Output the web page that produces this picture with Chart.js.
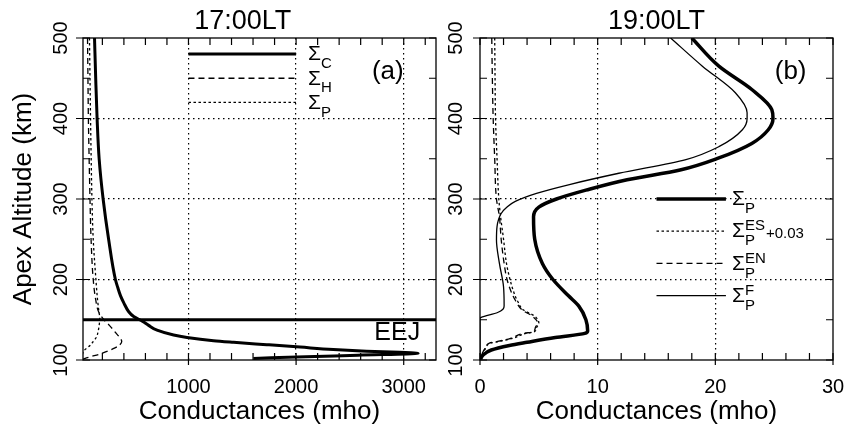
<!DOCTYPE html>
<html>
<head>
<meta charset="utf-8">
<script src="https://cdn.jsdelivr.net/npm/chart.js@4.4.0/dist/chart.umd.min.js"></script>
<style>
  html, body { margin: 0; padding: 0; background: #fff; }
  #wrap { position: relative; width: 850px; height: 427px; }
  #panelA { position: absolute; left: 0; top: 0; }
  #panelB { position: absolute; left: 440px; top: 0; }
</style>
</head>
<body>
<div id="wrap">
  <canvas id="panelA" width="440" height="427"></canvas>
  <canvas id="panelB" width="410" height="427"></canvas>
</div>
<script>
const FONT = '"Liberation Sans", Arial, Helvetica, sans-serif';
Chart.defaults.font.family = FONT;
Chart.defaults.color = '#000';

// 17:00 LT conductance profiles (apex altitude in km, conductance in mho)
const altC17 = [500, 450, 400, 350, 300, 250, 200, 190, 180, 171, 160, 154, 148, 143, 137, 131, 128, 124, 122, 119, 116, 113, 111, 109.5, 108.3, 106, 104, 102];
const sigmaC17 = [127, 138, 151, 170, 207, 258, 321, 343, 368, 399, 445, 491, 575, 630, 708, 862, 986, 1233, 1419, 1728, 2037, 2346, 2655, 2964, 3134, 2575, 2090, 1603];

const altH17 = [500, 450, 400, 350, 300, 250, 200, 175, 160, 150, 143, 135, 128, 123, 119, 115, 108, 104, 102, 100.5];
const sigmaH17 = [62, 66, 70, 77, 85, 95, 115, 138, 165, 215, 265, 317, 360, 380, 362, 317, 190, 90, 40, 15];

const altP17 = [500, 450, 400, 350, 300, 250, 200, 175, 160, 152, 145, 135, 129, 123, 118, 112, 106, 102];
const sigmaP17 = [80, 85, 90, 96, 103, 115, 140, 155, 168, 176, 172, 160, 147, 115, 85, 32, 12, 5];

const eejAltitude = 150;

// 19:00 LT Pedersen conductance and its E/F region parts
const altP19 = [500, 465, 436, 411, 400, 386, 369, 351, 336, 324, 311, 300, 290, 278, 250, 220, 200, 180, 167, 150, 136, 133, 128, 122, 118, 112.4, 106, 101];
const sigmaP19 = [18.0, 20.3, 23.1, 24.8, 24.9, 24.5, 23.1, 20.3, 17.0, 12.5, 9.0, 6.5, 5.0, 4.55, 4.65, 5.3, 6.2, 7.5, 8.4, 9.0, 9.15, 8.9, 6.4, 4.0, 2.5, 0.96, 0.25, 0.05];

const altES19 = [500, 450, 400, 350, 300, 278, 250, 220, 200, 183, 173, 162, 155, 146, 140, 135, 133, 127, 123, 121, 115, 110, 105, 100];
const sigmaES19 = [1.25, 1.28, 1.32, 1.45, 1.6, 1.75, 2.0, 2.25, 2.55, 2.9, 3.2, 3.7, 4.6, 5.0, 4.8, 4.6, 3.9, 2.8, 1.6, 0.9, 0.5, 0.3, 0.1, 0.03];

const altEN19 = [500, 450, 400, 350, 300, 278, 250, 220, 200, 183, 173, 162, 155, 146, 140, 135, 133, 127, 123, 121, 115, 110, 105, 100];
const sigmaEN19 = [1.0, 1.05, 1.12, 1.25, 1.4, 1.65, 1.8, 2.05, 2.3, 2.7, 3.05, 3.6, 4.4, 4.9, 4.7, 4.5, 3.7, 2.6, 1.5, 0.8, 0.45, 0.25, 0.1, 0.0];

const altF19 = [500, 465, 432, 407, 400, 386, 365, 349, 332, 318, 307, 297, 290, 282, 266, 249, 220, 191, 167, 163, 159, 153, 152, 100];
const sigmaF19 = [16.2, 18.9, 21.7, 22.7, 22.7, 22.3, 20.3, 17.5, 11.8, 7.6, 4.8, 3.0, 2.3, 1.8, 1.45, 1.4, 1.65, 2.0, 2.05, 1.95, 1.5, 0.1, 0, 0];

// tick labels
const altTicks = [100, 200, 300, 400, 500];
const conductTicks17 = [1000, 2000, 3000];
const conductTicks19 = [0, 10, 20, 30];

const DOTTED = [2.5, 2.5];
const DASHED = [6, 4];

function points(alts, vals) {
  return alts.map((a, i) => ({ x: vals[i], y: a }));
}

function curve(data, width, dash) {
  return {
    data,
    borderColor: '#000',
    borderWidth: width,
    borderDash: dash,
    pointRadius: 0,
    fill: false,
    cubicInterpolationMode: 'monotone'
  };
}

// Σ with subscript / superscript, as used in the key labels
function sigmaLabel(ctx, x, y, sub, sup, tail) {
  ctx.textAlign = 'left';
  ctx.textBaseline = 'middle';
  ctx.font = `21px ${FONT}`;
  ctx.fillText('\u03A3', x, y + 0.5);
  const w = ctx.measureText('\u03A3').width;
  ctx.font = `15px ${FONT}`;
  ctx.fillText(sub, x + w, y + 10);
  let end = x + w + ctx.measureText(sub).width;
  if (sup) {
    ctx.fillText(sup, x + w, y - 5);
    end = Math.max(end, x + w + ctx.measureText(sup).width);
  }
  if (tail) ctx.fillText(tail, end + 1, y + 3);
}

// frame, inward ticks, rotated altitude labels, key and annotations
const decor = {
  id: 'decor',
  afterDraw(chart, args, opts) {
    const { ctx, chartArea: a } = chart;
    const x = chart.scales.x, y = chart.scales.y;
    ctx.save();
    ctx.strokeStyle = '#000';
    ctx.fillStyle = '#000';
    ctx.setLineDash([]);

    ctx.lineWidth = 1.3;
    ctx.strokeRect(a.left, a.top, a.right - a.left, a.bottom - a.top);

    ctx.lineWidth = 1.2;
    ctx.beginPath();
    const n0 = Math.ceil(x.min / opts.xMinor), n1 = Math.floor(x.max / opts.xMinor);
    for (let n = n0; n <= n1; n++) {
      const px = x.getPixelForValue(n * opts.xMinor);
      ctx.moveTo(px, a.bottom); ctx.lineTo(px, a.bottom - 7);
      ctx.moveTo(px, a.top); ctx.lineTo(px, a.top + 7);
    }
    const m0 = Math.ceil(y.min / opts.yMinor), m1 = Math.floor(y.max / opts.yMinor);
    for (let m = m0; m <= m1; m++) {
      const py = y.getPixelForValue(m * opts.yMinor);
      ctx.moveTo(a.left, py); ctx.lineTo(a.left + 7, py);
      ctx.moveTo(a.right, py); ctx.lineTo(a.right - 7, py);
    }
    x.ticks.forEach(t => {
      const px = x.getPixelForValue(t.value);
      ctx.moveTo(px, a.bottom); ctx.lineTo(px, a.bottom + 5);
    });
    altTicks.forEach(v => {
      const py = y.getPixelForValue(v);
      ctx.moveTo(a.left - 7, py); ctx.lineTo(a.left, py);
    });
    ctx.stroke();

    // altitude labels, reading upwards
    ctx.font = `20px ${FONT}`;
    ctx.textAlign = 'center';
    ctx.textBaseline = 'middle';
    altTicks.forEach(v => {
      ctx.save();
      ctx.translate(a.left - opts.yLabelGap, y.getPixelForValue(v));
      ctx.rotate(-Math.PI / 2);
      ctx.fillText(String(v), 0, 0);
      ctx.restore();
    });

    // panel heading
    ctx.font = `27px ${FONT}`;
    ctx.fillText(opts.heading, x.getPixelForValue(opts.headingX), 22);

    ctx.font = `26px ${FONT}`;
    ctx.fillText(opts.tag, x.getPixelForValue(opts.tagAt[0]), y.getPixelForValue(opts.tagAt[1]));

    if (opts.note) {
      ctx.font = `25px ${FONT}`;
      ctx.fillText(opts.note.text, x.getPixelForValue(opts.note.at[0]), y.getPixelForValue(opts.note.at[1]));
    }

    // key
    opts.keys.forEach(k => {
      const py = y.getPixelForValue(k.alt);
      const x0 = x.getPixelForValue(opts.keyFrom), x1 = x.getPixelForValue(opts.keyTo);
      ctx.lineWidth = k.width;
      ctx.setLineDash(k.dash);
      ctx.beginPath();
      ctx.moveTo(x0, py); ctx.lineTo(x1, py);
      ctx.stroke();
      ctx.setLineDash([]);
      sigmaLabel(ctx, x1 + opts.keyGap, py, k.sub, k.sup, k.tail);
    });
    ctx.restore();
  }
};

function makeOptions(cfg) {
  return {
    responsive: false,
    animation: false,
    devicePixelRatio: 1,
    indexAxis: 'y',
    layout: { padding: { top: 38, right: cfg.padRight, left: 0, bottom: 0 } },
    plugins: {
      legend: { display: false },
      tooltip: { enabled: false },
      decor: cfg.decor
    },
    scales: {
      x: {
        type: 'linear',
        min: cfg.xMin,
        max: cfg.xMax,
        afterBuildTicks: s => { s.ticks = cfg.xTicks.map(v => ({ value: v })); },
        ticks: {
          font: { size: 20 },
          padding: 15,
          maxRotation: 0,
          autoSkip: false,
          callback: v => String(v)
        },
        grid: {
          drawTicks: false,
          lineWidth: 1.2,
          color: c => (c.tick && c.tick.value > cfg.xMin && c.tick.value < cfg.xMax) ? '#000' : 'rgba(0,0,0,0)'
        },
        border: { display: false, dash: [1.5, 3.5] },
        title: { display: true, text: 'Conductances (mho)', font: { size: 26 }, padding: { top: 2, bottom: 0 } },
        afterFit: s => { s.height = 67; s.paddingLeft = 0; s.paddingRight = 0; }
      },
      y: {
        type: 'linear',
        min: 100,
        max: 500,
        afterBuildTicks: s => { s.ticks = altTicks.map(v => ({ value: v })); },
        ticks: { display: false },
        grid: {
          drawTicks: false,
          lineWidth: 1.2,
          color: c => (c.tick && c.tick.value > 100 && c.tick.value < 500) ? '#000' : 'rgba(0,0,0,0)'
        },
        border: { display: false, dash: [1.5, 3.5] },
        title: { display: cfg.yTitle, text: 'Apex Altitude (km)', font: { size: 26 }, padding: { top: 8, bottom: 0 } },
        afterFit: s => { s.width = cfg.yWidth; s.paddingTop = 0; s.paddingBottom = 0; }
      }
    }
  };
}

// EEJ reference level spans the whole conductance range of panel (a)
const xMinA = 20, xMaxA = 3300;

new Chart(document.getElementById('panelA'), {
  type: 'line',
  data: {
    datasets: [
      curve(points(altC17, sigmaC17), 3, []),
      curve(points(altH17, sigmaH17), 1.3, DASHED),
      curve(points(altP17, sigmaP17), 1.3, DOTTED),
      curve([{ x: xMinA, y: eejAltitude }, { x: xMaxA, y: eejAltitude }], 3, [])
    ]
  },
  options: makeOptions({
    xMin: xMinA, xMax: xMaxA, xTicks: conductTicks17, yWidth: 83, padRight: 4, yTitle: true,
    decor: {
      xMinor: 200, yMinor: 50, yLabelGap: 22,
      heading: '17:00LT', headingX: 1505,
      tag: '(a)', tagAt: [2852, 458],
      note: { text: 'EEJ', at: [2940, 134] },
      keyFrom: 1000, keyTo: 2000, keyGap: 12,
      keys: [
        { alt: 480, width: 3, dash: [], sub: 'C' },
        { alt: 450, width: 1.3, dash: DASHED, sub: 'H' },
        { alt: 420, width: 1.3, dash: DOTTED, sub: 'P' }
      ]
    }
  }),
  plugins: [decor]
});

new Chart(document.getElementById('panelB'), {
  type: 'line',
  data: {
    datasets: [
      curve(points(altP19, sigmaP19), 3.5, []),
      curve(points(altES19, sigmaES19), 1.3, DOTTED),
      curve(points(altEN19, sigmaEN19), 1.3, DASHED),
      curve(points(altF19, sigmaF19), 1.3, [])
    ]
  },
  options: makeOptions({
    xMin: 0, xMax: 30, xTicks: conductTicks19, yWidth: 40, padRight: 17, yTitle: false,
    decor: {
      xMinor: 2, yMinor: 50, yLabelGap: 24,
      heading: '19:00LT', headingX: 15,
      tag: '(b)', tagAt: [26.4, 458],
      keyFrom: 15, keyTo: 20.9, keyGap: 6,
      keys: [
        { alt: 300, width: 3.5, dash: [], sub: 'P' },
        { alt: 260, width: 1.3, dash: DOTTED, sub: 'P', sup: 'ES', tail: '+0.03' },
        { alt: 220, width: 1.3, dash: DASHED, sub: 'P', sup: 'EN' },
        { alt: 180, width: 1.3, dash: [], sub: 'P', sup: 'F' }
      ]
    }
  }),
  plugins: [decor]
});
</script>
</body>
</html>
